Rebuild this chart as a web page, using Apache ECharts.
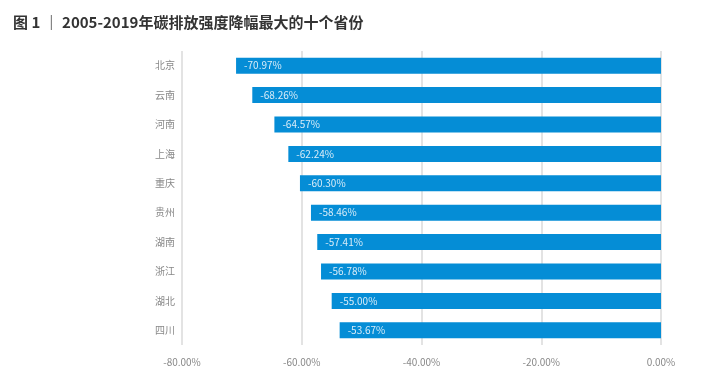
<!DOCTYPE html>
<html><head><meta charset="utf-8">
<script src="https://cdn.jsdelivr.net/npm/echarts@6/dist/echarts.min.js"></script>
<style>html,body{margin:0;padding:0;background:#fff}#c{width:702px;height:384px}</style>
</head><body><div id="c"></div>
<script>
const categories = ['北京','云南','河南','上海','重庆','贵州','湖南','浙江','湖北','四川'];
const values = [-70.97,-68.26,-64.57,-62.24,-60.30,-58.46,-57.41,-56.78,-55.00,-53.67];
const xTicks = [-80,-60,-40,-20,0];
const titleText = '图 1 ｜ 2005-2019年碳排放强度降幅最大的十个省份';

const chart = echarts.init(document.getElementById('c'));
chart.setOption({
  animation:false,
  title:{text:titleText,left:8,top:10,textStyle:{fontFamily:'Noto Sans CJK SC',fontWeight:'bold',fontSize:15,color:'#333'}},
  grid:{left:182,right:41,top:51,bottom:39,containLabel:false},
  xAxis:{type:'value',min:xTicks[0],max:xTicks[xTicks.length-1],interval:20,
    axisLine:{show:false},axisTick:{show:false},
    axisLabel:{formatter:v=>v.toFixed(2)+'%',color:'#888',fontSize:10,fontFamily:'Noto Sans CJK SC',margin:12},
    splitLine:{lineStyle:{color:'#e3e3e3',width:2}}},
  yAxis:{type:'category',data:categories,inverse:true,
    axisLine:{show:false},axisTick:{show:false},
    axisLabel:{color:'#888',fontSize:10,fontFamily:'Noto Sans CJK SC',margin:7}},
  series:[{type:'bar',data:values,barWidth:16,
    itemStyle:{color:'#058dd6'},
    label:{show:true,position:'insideLeft',distance:8,color:'#d8ecf8',fontSize:10,fontFamily:'Noto Sans CJK SC',
      formatter:p=>p.value.toFixed(2)+'%'}}]
});
</script></body></html>
